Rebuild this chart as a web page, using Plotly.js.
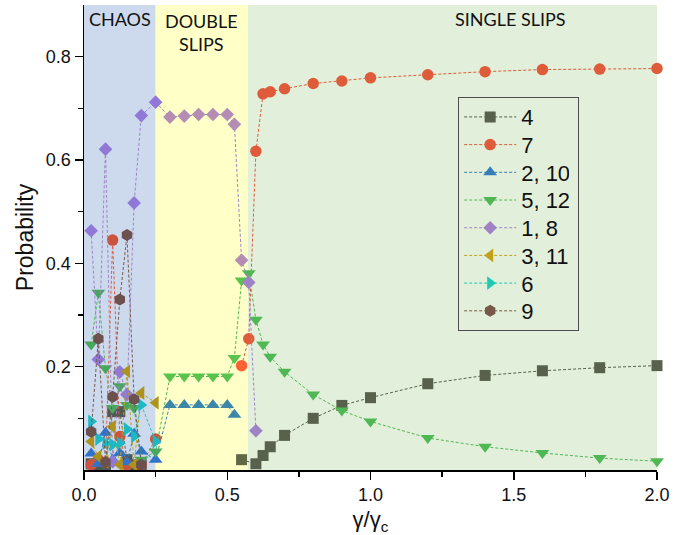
<!DOCTYPE html>
<html>
<head>
<meta charset="utf-8">
<script src="https://cdn.plot.ly/plotly-3.0.1.min.js"></script>
<style>html,body{margin:0;padding:0;background:#fff;}#chart{width:683px;height:535px;}</style>
</head>
<body>
<div id="chart"></div>
<script>
// ---------------- data ----------------
const seriesNames = ["4", "7", "2, 10", "5, 12", "1, 8", "3, 11", "6", "9"];

const x4 = [0.025,0.05,0.075,0.1,0.125,0.15,0.175,0.2, 0.4, 0.55,0.6,0.625,0.65,0.7,0.8,0.9,1.0,1.2,1.4,1.6,1.8,2.0];
const y4 = [0.012,0.008,0.01,0.113,0.113,0.02,0.01,0.01, null, 0.02,0.012,0.028,0.045,0.067,0.1,0.125,0.14,0.167,0.183,0.192,0.198,0.202];

const x7 = [0.025,0.05,0.075,0.1,0.125,0.15,0.2,0.25, 0.4, 0.55,0.575,0.6,0.625,0.65,0.7,0.8,0.9,1.0,1.2,1.4,1.6,1.8,2.0];
const y7 = [0.01,0.02,0.015,0.445,0.065,0.01,0.01,0.06, null, 0.202,0.254,0.617,0.728,0.732,0.738,0.748,0.753,0.759,0.765,0.771,0.775,0.776,0.777];

const x2 = [0.025,0.05,0.075,0.1,0.125,0.15,0.175,0.2,0.25,0.3,0.35,0.4,0.45,0.5,0.525];
const y2 = [0.032,0.012,0.072,0.02,0.033,0.015,0.07,0.036,0.02,0.126,0.126,0.126,0.126,0.126,0.107];

const x5 = [0.025,0.05,0.075,0.1,0.125,0.15,0.175,0.2,0.25,0.3,0.35,0.4,0.45,0.5,0.525,0.55,0.575,0.6,0.625,0.65,0.7,0.8,0.9,1.0,1.2,1.4,1.6,1.8,2.0];
const y5 = [0.243,0.343,0.197,0.12,0.162,0.126,0.12,0.02,0.036,0.181,0.181,0.181,0.181,0.181,0.217,0.367,0.381,0.291,0.243,0.219,0.19,0.146,0.115,0.094,0.062,0.045,0.033,0.023,0.017];

const x1 = [0.025,0.05,0.075,0.1,0.125,0.15,0.175,0.2,0.25,0.3,0.35,0.4,0.45,0.5,0.525,0.55,0.575,0.6];
const y1 = [0.463,0.214,0.621,0.016,0.19,0.146,0.517,0.686,0.712,0.683,0.685,0.688,0.688,0.688,0.669,0.406,0.363,0.076];

const x3 = [0.025,0.05,0.075,0.1,0.125,0.15,0.175,0.2,0.25];
const y3 = [0.055,0.026,0.016,0.084,0.01,0.191,0.01,0.149,0.13];

const x6 = [0.025,0.05,0.075,0.1,0.125,0.15,0.175,0.2,0.25];
const y6 = [0.094,0.06,0.052,0.049,0.052,0.079,0.065,0.126,0.055];

const x9 = [0.025,0.05,0.075,0.1,0.125,0.15,0.175,0.2];
const y9 = [0.074,0.254,0.015,0.142,0.33,0.455,0.137,0.01];

const regionLabels = ["CHAOS", "DOUBLE<br>SLIPS", "SINGLE SLIPS"];
const regionEdges = [0, 0.25, 0.572, 2.0];

const xTicks = [0, 0.5, 1.0, 1.5, 2.0];
const yTicks = [0.2, 0.4, 0.6, 0.8];

// ---------------- styles ----------------
const regionColors = [[205,218,238],[255,255,200],[226,239,218]];
const baseColors = [[98,104,88],[252,98,68],[60,135,215],[90,195,100],[180,140,230],[215,172,30],[35,215,210],[135,95,85]];
const symbols = ["square","circle","triangle-up","triangle-down","diamond","triangle-left","triangle-right","hexagon"];
const sizes = [11,11.5,12,12,10.5,12,12,12];

function mult(c, r) {
  return 'rgb(' + Math.round(c[0]*r[0]/255) + ',' + Math.round(c[1]*r[1]/255) + ',' + Math.round(c[2]*r[2]/255) + ')';
}
function regionOf(x) {
  if (x < regionEdges[1] + 0.001) return 0;
  if (x < regionEdges[2]) return 1;
  return 2;
}

const xs = [x4,x7,x2,x5,x1,x3,x6,x9];
const ys = [y4,y7,y2,y5,y1,y3,y6,y9];
const legendColors = baseColors.map(c => mult(c, regionColors[2]));

const traces = [];
for (let i = 0; i < xs.length; i++) {
  const colors = xs[i].map(x => mult(baseColors[i], regionColors[regionOf(x)]));
  traces.push({
    x: xs[i], y: ys[i], type: 'scatter', mode: 'lines+markers', name: seriesNames[i],
    showlegend: true, cliponaxis: false, connectgaps: false,
    line: {color: legendColors[i], width: 1, dash: '3px,2px'},
    marker: {symbol: symbols[i], size: sizes[i], color: colors, line: {width: 0}},
    hoverinfo: 'skip'
  });
}

const shapes = [];
for (let k = 0; k < 3; k++) {
  shapes.push({type: 'rect', xref: 'x', yref: 'paper', x0: regionEdges[k], x1: regionEdges[k+1], y0: 0, y1: 1,
    fillcolor: 'rgb(' + regionColors[k].join(',') + ')', line: {width: 0}, layer: 'below'});
}

const labelFont = {family: 'Lato, "Noto Sans", sans-serif', size: 18, color: '#111'};
const annotations = [
  {x: 0.125, y: 0.873, xref: 'x', yref: 'y', text: regionLabels[0], showarrow: false, font: labelFont},
  {x: 0.41, y: 0.847, xref: 'x', yref: 'y', text: regionLabels[1], showarrow: false, font: labelFont},
  {x: 1.487, y: 0.873, xref: 'x', yref: 'y', text: regionLabels[2], showarrow: false, font: labelFont}
];

const tickFont = {family: '"Liberation Sans", Arial, sans-serif', size: 18, color: '#111'};

const layout = {
  width: 683, height: 535,
  margin: {l: 84, r: 26, t: 5, b: 65},
  paper_bgcolor: '#fff', plot_bgcolor: 'rgba(0,0,0,0)',
  showlegend: true,
  legend: {x: 0.653, y: 0.802, xanchor: 'left', yanchor: 'top', bgcolor: 'rgba(0,0,0,0)',
    bordercolor: '#4d4d4d', borderwidth: 1, itemwidth: 52, traceorder: 'normal',
    font: {family: '"Liberation Sans", Arial, sans-serif', size: 19, color: '#111'}},
  xaxis: {range: [0, 2.0], tickvals: xTicks, ticktext: xTicks.map(v => v.toFixed(1)),
    ticks: 'outside', ticklen: 8, tickwidth: 1.5, tickcolor: '#000',
    minor: {tickvals: [0.25, 0.75, 1.25, 1.75], ticks: 'outside', ticklen: 5, tickwidth: 1.5, tickcolor: '#000'},
    showline: true, linecolor: '#000', linewidth: 1.5, showgrid: false, zeroline: false,
    tickfont: tickFont,
    title: {text: 'γ/γ<sub>c</sub>', font: {family: '"Liberation Sans", Arial, sans-serif', size: 22, color: '#111'}, standoff: 8}},
  yaxis: {range: [0, 0.9], tickvals: yTicks, ticktext: yTicks.map(v => v.toFixed(1)),
    ticks: 'outside', ticklen: 8, tickwidth: 1.5, tickcolor: '#000',
    minor: {tickvals: [0.1, 0.3, 0.5, 0.7], ticks: 'outside', ticklen: 5, tickwidth: 1.5, tickcolor: '#000'},
    showline: true, linecolor: '#000', linewidth: 1.5, showgrid: false, zeroline: false,
    tickfont: tickFont,
    title: {text: 'Probability', font: {family: '"Liberation Sans", Arial, sans-serif', size: 23, color: '#111'}, standoff: 6}},
  shapes: shapes,
  annotations: annotations
};

Plotly.newPlot('chart', traces, layout, {displayModeBar: false, staticPlot: true}).then(function (gd) {
  // legend symbols take the colour the marks have over the green region
  const items = gd.querySelectorAll('.legend .traces');
  items.forEach(function (g, i) {
    g.querySelectorAll('.legendpoints path.scatterpts').forEach(function (p) {
      p.style.fill = legendColors[i];
    });
    g.querySelectorAll('text.legendtext').forEach(function (t) {
      t.style.fontSize = '22px';
      const y = parseFloat(t.getAttribute('y') || '0');
      t.setAttribute('y', y + 1);
    });
  });
  gd.querySelectorAll('.legend rect.bg').forEach(function (r) {
    r.setAttribute('width', 120);
  });
});
</script>
</body>
</html>
